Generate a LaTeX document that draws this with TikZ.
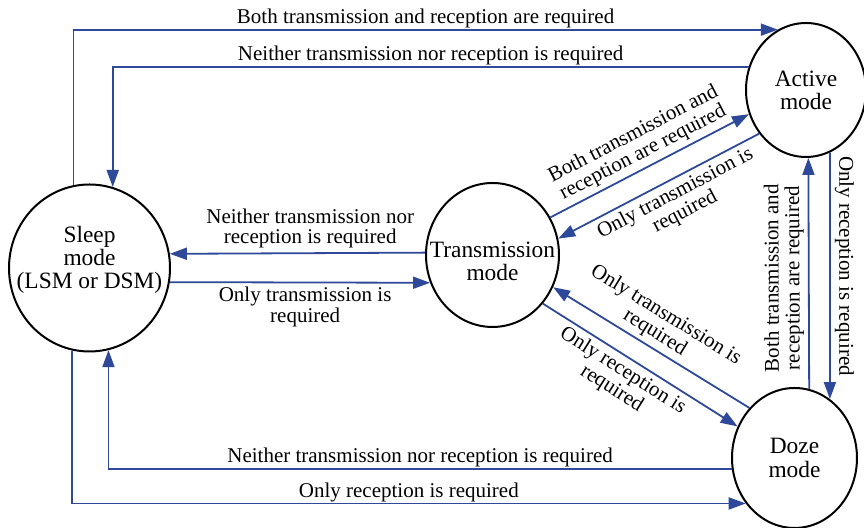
\documentclass[tikz,border=0pt]{standalone}
\usepackage{fontspec}
\setmainfont{Liberation Serif}
\usepackage{tikz}
\usetikzlibrary{shapes.geometric, arrows.meta}
\definecolor{linkblue}{RGB}{46,72,154}
\tikzstyle{mode} = [ellipse, draw=black, line width=1pt, inner sep=0pt]
\tikzstyle{modetext} = [align=center, font=\fontsize{11.7}{11.6}\selectfont]
\tikzstyle{arrow} = [line width=0.9pt, linkblue, -{Triangle[length=8.5pt,width=6pt]}]
\tikzstyle{cond} = [text=black, align=center, inner sep=2pt, font=\fontsize{10.5}{10.4}\selectfont]

\begin{document}
\begin{tikzpicture}[x=0.5pt, y=-0.5pt, node distance=200pt]
            \useasboundingbox (-89.5,-268) rectangle (774.5,260);
            \node(sleep)[mode, minimum width=80.5pt, minimum height=83.5pt, label={[modetext, yshift=4pt]center:{Sleep\\mode\\(LSM or DSM)}}]{};
            \node(trans)[mode, right of=sleep, xshift=1.5pt, yshift=6.5pt, minimum width=66.5pt, minimum height=72pt, label={[modetext, yshift=-3pt]center:{Transmission\\mode}}]{};
            \node(active)[mode, right of=trans, xshift=-43.25pt, yshift=82.5pt, minimum width=60pt, minimum height=67pt, label={[modetext]center:{Active\\mode}}]{};
            \node(doze)[mode, below of=active, xshift=-5.75pt, yshift=16pt, minimum width=62.5pt, minimum height=70pt, label={[modetext]center:{Doze\\mode}}]{};
            \draw[arrow](sleep.101.4) |- node[cond, pos=0.75, above=-1.5pt]{Both transmission and reception are required} (active.115.7);
            \draw[arrow](active.158.8) -| node[cond, pos=0.25, above=-1.5pt]{Neither transmission nor reception is required} (sleep.74.3);
            \draw[arrow](trans.178.3) -- node[cond, pos=0.45, above]{Neither transmission nor\\reception is required} (sleep.10.7);
            \draw[arrow](sleep.-10) -- node[cond, pos=0.52, below]{Only transmission is\\required} (trans.-156.35);
            \draw[arrow](sleep.-102.1) |- node[cond, pos=0.75, above=-1.5pt]{Only reception is required} (doze.-137.8);
            \draw[arrow](doze.-170.8) -| node[cond, pos=0.25, above=-1.5pt]{Neither transmission nor reception is required} (sleep.-77.2);
            \draw[arrow](trans.33.9) -- node[cond, midway, above, sloped]{Both transmission and\\reception are required} (active.203.7);
            \draw[arrow](active.-137.5) -- node[cond, pos=0.45, below, sloped]{Only transmission is\\required} (trans.14.9);
            \draw[arrow](doze.132.2) -- node[cond, pos=0.52, above, sloped]{Only transmission is\\required} (trans.-28.2);
            \draw[arrow](trans.-44.7) -- node[cond, pos=0.45, below, sloped]{Only reception is\\required} (doze.151.7);
            \draw[arrow](doze.78.8) -- node[cond, pos=0.48, above, sloped, allow upside down]{Both transmission and\\reception are required} (active.-88.3);
            \draw[arrow](active.-69.6) -- node[cond, pos=0.46, above, sloped, allow upside down]{Only reception is required} (doze.59.4);
        \end{tikzpicture}
\end{document}
